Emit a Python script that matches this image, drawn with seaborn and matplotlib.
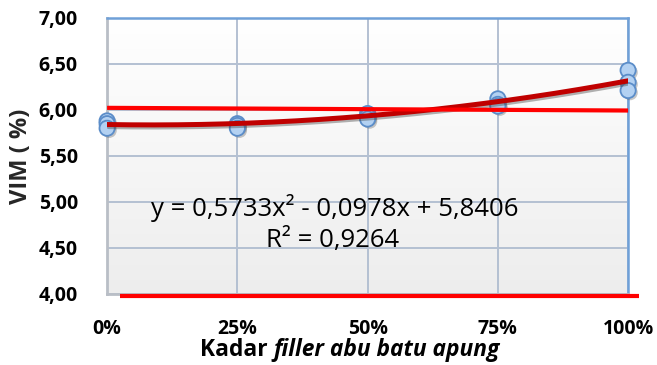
import numpy as np
import pandas as pd
import matplotlib
matplotlib.use("Agg")
import matplotlib.pyplot as plt
import matplotlib.patheffects as pe
from matplotlib.offsetbox import TextArea, HPacker, AnnotationBbox
import seaborn as sns

# Measured VIM values for each filler content (three samples each)
kadar = [0.0, 0.0, 0.0, 0.25, 0.25, 0.25, 0.5, 0.5, 0.5,
         0.75, 0.75, 0.75, 1.0, 1.0, 1.0]
vim = [5.88, 5.85, 5.80, 5.85, 5.83, 5.80, 5.96, 5.93, 5.90,
       6.12, 6.06, 6.04, 6.43, 6.30, 6.21]

# Polynomial trend (order 2) coefficients and fit quality
coef_a, coef_b, coef_c = 0.5733, -0.0978, 5.8406
r_squared = 0.9264

x_ticks = [0.0, 0.25, 0.5, 0.75, 1.0]
x_tick_labels = ["0%", "25%", "50%", "75%", "100%"]
y_ticks = [4.0, 4.5, 5.0, 5.5, 6.0, 6.5, 7.0]

# Hand-drawn reference markers (red lines)
ref_upper_x = [0.0, 1.0]
ref_upper_y = [6.022, 5.993]
ref_lower_x = [0.025, 1.02]
ref_lower_y = [3.98, 3.98]

sns.set_theme(style="white")
plt.rcParams["font.family"] = ["Open Sans", "DejaVu Sans"]

fig = plt.figure(figsize=(6.57, 3.65), dpi=100)
ax = fig.add_axes([0.163, 0.195, 0.793, 0.756])

# Soft vertical gradient for the plot area
grad = np.linspace(1.0, 0.93, 256).reshape(-1, 1)
ax.imshow(np.dstack([grad, grad, grad]), extent=[0, 1, 4.0, 7.0],
          aspect="auto", zorder=0, origin="upper")

ax.set_xlim(0, 1)
ax.set_ylim(4.0, 7.0)

for xv in x_ticks:
    ax.axvline(xv, color="#b4c0d2", lw=1.4, zorder=1)
for yv in y_ticks:
    ax.axhline(yv, color="#b4c0d2", lw=1.4, zorder=1)

df = pd.DataFrame({"kadar": kadar, "vim": vim})
sns.scatterplot(data=df, x="kadar", y="vim", ax=ax, s=120,
                color="#b3d1f2", edgecolor="#5b8dc9", linewidth=1.3,
                zorder=3, clip_on=False,
                path_effects=[pe.SimplePatchShadow(offset=(1.5, -1.5),
                                                   shadow_rgbFace="#606060",
                                                   alpha=0.35),
                              pe.Normal()])

xs = np.linspace(0, 1, 200)
trend = pd.DataFrame({"x": xs, "y": coef_a * xs**2 + coef_b * xs + coef_c})
sns.lineplot(data=trend, x="x", y="y", ax=ax, color="#c00000", lw=3.6,
             zorder=4,
             path_effects=[pe.SimpleLineShadow(offset=(1.2, -1.5),
                                               shadow_color="#404040",
                                               alpha=0.4),
                           pe.Normal()])

ax.plot(ref_upper_x, ref_upper_y, color="#ff0000", lw=3.0, zorder=5,
        solid_capstyle="butt", clip_on=False)
ax.plot(ref_lower_x, ref_lower_y, color="#ff0000", lw=3.0, zorder=5,
        solid_capstyle="butt", clip_on=False)

ax.text(0.437, 4.93, "y = 0,5733x² - 0,0978x + 5,8406",
        ha="center", va="center", fontsize=18.5, color="black", zorder=6)
ax.text(0.432, 4.58, "R² = " + f"{r_squared:.4f}".replace(".", ","),
        ha="center", va="center", fontsize=18.5, color="black", zorder=6)

ax.set_xticks(x_ticks)
ax.set_xticklabels(x_tick_labels, fontsize=14, fontweight="bold")
ax.set_yticks(y_ticks)
ax.set_yticklabels([f"{v:.2f}".replace(".", ",") for v in y_ticks],
                   fontsize=14, fontweight="bold")
ax.tick_params(axis="x", length=0, pad=18, colors="black")
ax.tick_params(axis="y", length=0, pad=21, colors="black")
ax.set_xlabel("")
ax.set_ylabel("VIM ( %)", fontsize=17, fontweight="bold", labelpad=4)

for side in ["left", "bottom"]:
    ax.spines[side].set_color("#b9bec6")
    ax.spines[side].set_linewidth(2.0)
for side in ["top", "right"]:
    ax.spines[side].set_color("#6fa0d8")
    ax.spines[side].set_linewidth(1.8)

# X-axis title with the italic term
label_box = HPacker(children=[
    TextArea("Kadar ", textprops=dict(fontsize=16.4, fontweight="bold",
                                      color="black")),
    TextArea("filler abu batu apung",
             textprops=dict(fontsize=16.4, fontweight="bold",
                            style="italic", color="black")),
], align="baseline", pad=0, sep=0)
ab = AnnotationBbox(label_box, (0.533, 0.042), xycoords="figure fraction",
                    frameon=False, box_alignment=(0.5, 0.5))
fig.add_artist(ab)

fig.savefig("out.png", dpi=100)
